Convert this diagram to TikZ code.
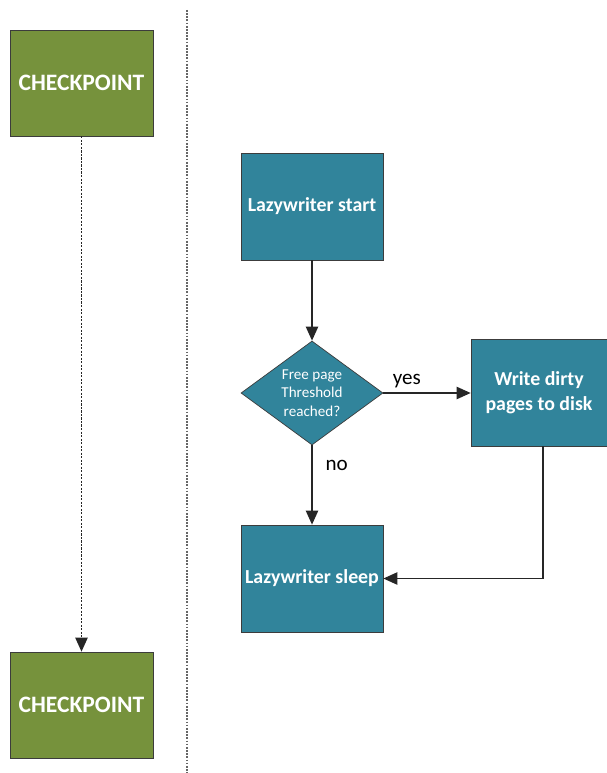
\documentclass[tikz,border=0pt]{standalone}
\usepackage{fontspec}
\setmainfont{Carlito}
\usepackage{xcolor}
\definecolor{cpgreen}{RGB}{118,146,60}
\definecolor{lwteal}{RGB}{49,132,155}
\definecolor{boxedge}{RGB}{60,60,60}
\usetikzlibrary{arrows.meta, positioning, shapes.geometric}

\tikzset{
  cpbox/.style={draw=boxedge, fill=cpgreen, minimum width=2.86cm, minimum height=2.12cm,
    font=\fontsize{13.4}{15}\selectfont\bfseries, text=white, align=center, inner sep=0pt},
  lwbox/.style={draw=boxedge, fill=lwteal, minimum width=2.84cm, minimum height=2.14cm,
    font=\fontsize{11.3}{14}\selectfont\bfseries, text=white, align=center, inner sep=0pt},
  lwtest/.style={diamond, draw=boxedge, fill=lwteal, minimum width=2.84cm, minimum height=2.08cm,
    aspect=1.37, font=\fontsize{8.6}{10.5}\selectfont, text=white, align=center, inner sep=0pt},
  flow/.style={line width=0.9pt, black!85, -{Triangle[length=8pt,width=7pt]}},
  lbl/.style={font=\fontsize{12}{14}\selectfont, text=black}
}

\begin{document}
\begin{tikzpicture}[x=0.02cm, y=-0.02cm]
  \useasboundingbox (0,0) rectangle (607,773);

  % Checkpoints
  \node[cpbox] (cp1) at (81.5,83) {CHECKPOINT};
  \node[cpbox] (cp2) at (81.5,705) {CHECKPOINT};
  \draw[flow, dash pattern=on 1.2pt off 0.8pt] (cp1) -- (cp2);

  % Divider
  \coordinate (divtop) at (187,10);
  \coordinate (divbot) at (187,773);
  \draw[line width=0.8pt, black!60, dash pattern=on 1pt off 0.8pt] (divtop) -- (divbot);

  % Lazywriter
  \node[lwbox] (start) at (312,206.5) {Lazywriter start};
  \node[lwtest] (test) at (312,393) {Free page\\Threshold\\reached?};
  \node[lwbox, minimum width=2.72cm] (write) at (539,393) {Write dirty\\pages to disk};
  \node[lwbox] (sleep) at (312,578.5) {Lazywriter sleep};

  \draw[flow] (start) -- (test);
  \draw[flow] (test) -- node[lbl, above=-1pt, pos=0.27] {yes} (write);
  \draw[flow] (test) -- node[lbl, right=4pt, pos=0.25] {no} (sleep);
  \coordinate (wdrop) at (543,446);
  \draw[flow] (wdrop) |- (sleep);
\end{tikzpicture}
\end{document}
